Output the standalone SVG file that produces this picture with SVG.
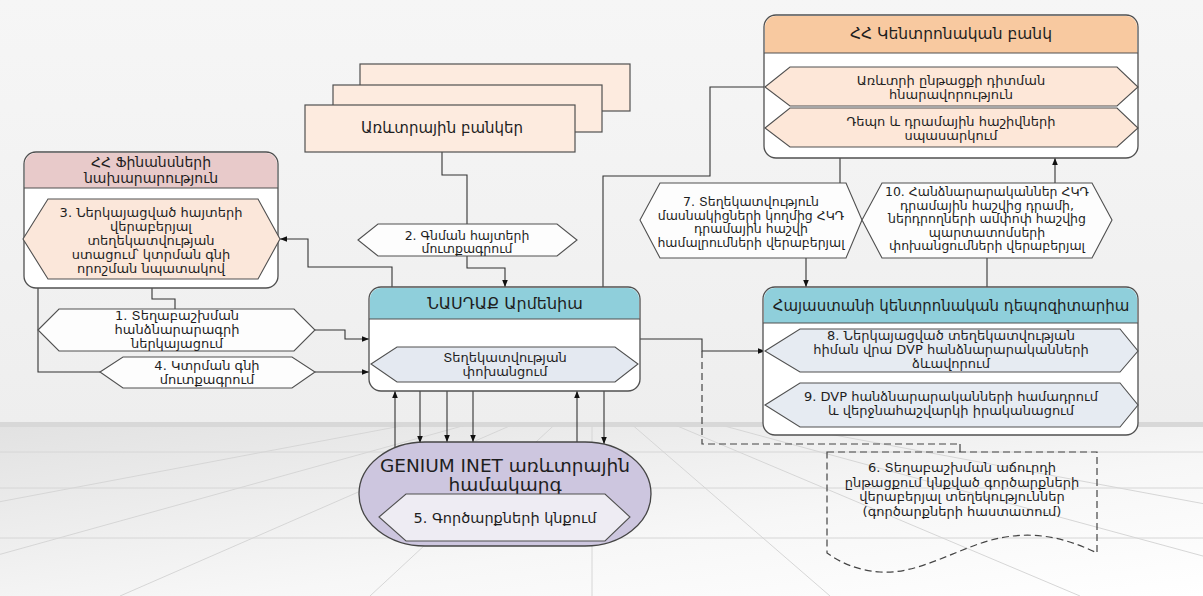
<svg xmlns="http://www.w3.org/2000/svg" width="1203" height="596" viewBox="0 0 1203 596">
<defs>
<linearGradient id="sky" x1="0" y1="0" x2="0" y2="1">
<stop offset="0" stop-color="#f6f6f6"/><stop offset="1" stop-color="#eeeeee"/>
</linearGradient>
<linearGradient id="floor" x1="0" y1="0" x2="1" y2="1">
<stop offset="0" stop-color="#e2e2e2"/><stop offset="0.6" stop-color="#f7f7f7"/><stop offset="1" stop-color="#ffffff"/>
</linearGradient>
<clipPath id="floorClip"><rect x="0" y="426" width="1203" height="170"/></clipPath>
<marker id="arr" viewBox="0 0 10 10" refX="10" refY="5" markerWidth="7" markerHeight="7" orient="auto" markerUnits="userSpaceOnUse">
<path d="M0,1 L10,5 L0,9 Z" fill="#111"/>
</marker>
<style>
.bg-line{stroke:#d6d6d6;stroke-width:1;fill:none}
.box{fill:#ffffff;stroke:#505050;stroke-width:1.3}
.hex{stroke:#505050;stroke-width:1.1}
.lbl{fill:#fdfdfd;stroke:#505050;stroke-width:1.1}
.con{fill:none;stroke:#333;stroke-width:1.1}
.dash{fill:none;stroke:#444;stroke-width:1.2;stroke-dasharray:7,4}
text{font-family:'DejaVu Sans','Noto Sans',sans-serif;fill:#1e1e1e;text-anchor:middle}
.t{font-size:13px}
.s{font-size:12.5px}
.h{font-size:14px}
</style>
</defs>

<!-- background -->
<g id="background">
<rect x="0" y="0" width="1203" height="426" fill="url(#sky)"/>
<rect x="0" y="426" width="1203" height="170" fill="url(#floor)"/>
<rect x="0" y="422" width="1203" height="5" fill="#d8d8d8"/>
<g clip-path="url(#floorClip)">
<line class="bg-line" x1="0" y1="452" x2="1203" y2="452"/>
<line class="bg-line" x1="0" y1="488" x2="1203" y2="488"/>
<line class="bg-line" x1="0" y1="538" x2="1203" y2="538"/>
<line class="bg-line" x1="592" y1="426" x2="592" y2="596"/>
<line class="bg-line" x1="592" y1="390" x2="-500" y2="596"/>
<line class="bg-line" x1="592" y1="390" x2="-150" y2="596"/>
<line class="bg-line" x1="592" y1="390" x2="120" y2="596"/>
<line class="bg-line" x1="592" y1="390" x2="370" y2="596"/>
<line class="bg-line" x1="592" y1="390" x2="830" y2="596"/>
<line class="bg-line" x1="592" y1="390" x2="1080" y2="596"/>
<line class="bg-line" x1="592" y1="390" x2="1350" y2="596"/>
<line class="bg-line" x1="592" y1="390" x2="1700" y2="596"/>
</g>
</g>

<!-- connectors -->
<g id="connectors">
<polyline class="con" points="442,152 442,175 467,175 467,224"/>
<polyline class="con" points="467,256 467,268 505,268 505,287" marker-end="url(#arr)"/>
<polyline class="con" points="392,287 392,267 308,267 308,239 280,239" marker-end="url(#arr)"/>
<polyline class="con" points="152,288 152,299 175,299 175,309"/>
<polyline class="con" points="315,330 345,330 345,339 369,339" marker-end="url(#arr)"/>
<polyline class="con" points="38,288 38,372 100,372"/>
<polyline class="con" points="315,372 369,372" marker-end="url(#arr)"/>
<line class="con" x1="395" y1="447" x2="395" y2="391" marker-end="url(#arr)"/>
<line class="con" x1="420" y1="391" x2="420" y2="443" marker-end="url(#arr)"/>
<line class="con" x1="447" y1="391" x2="447" y2="442" marker-end="url(#arr)"/>
<line class="con" x1="473" y1="391" x2="473" y2="442" marker-end="url(#arr)"/>
<line class="con" x1="577" y1="442" x2="577" y2="391" marker-end="url(#arr)"/>
<line class="con" x1="604" y1="391" x2="604" y2="444" marker-end="url(#arr)"/>
<polyline class="con" points="640,339 702,339 702,351 765,351" marker-end="url(#arr)"/>
<polyline class="dash" points="702,351 702,444 960,444"/>
<line class="con" x1="960" y1="444" x2="960" y2="452"/>
<polyline class="con" points="603,287 603,176 710,176 710,87 765,87"/>
<line class="con" x1="840" y1="158" x2="840" y2="183"/>
<line class="con" x1="806" y1="258" x2="806" y2="287" marker-end="url(#arr)"/>
<line class="con" x1="1055" y1="183" x2="1055" y2="158" marker-end="url(#arr)"/>
<line class="con" x1="987" y1="287" x2="987" y2="258"/>
</g>

<!-- Ministry of Finance -->
<g id="ministry">
<rect class="box" x="24" y="152" width="254" height="136" rx="12"/>
<path d="M25,188 V164 A11,11 0 0 1 36,153 H266 A11,11 0 0 1 277,164 V188 Z" fill="#e8caca"/>
<line x1="24" y1="188" x2="278" y2="188" stroke="#505050" stroke-width="1.2"/>
<text class="h" x="151" y="167">ՀՀ Ֆինանսների</text>
<text class="h" x="151" y="183">նախարարություն</text>
<polygon class="hex" fill="#fbe7da" points="23,239 48,199 258,199 280,239 258,279 48,279"/>
<text class="t" x="151" y="217">3. Ներկայացված հայտերի</text>
<text class="t" x="151" y="231">վերաբերյալ</text>
<text class="t" x="151" y="245">տեղեկատվության</text>
<text class="t" x="151" y="259">ստացում՝ կտրման գնի</text>
<text class="t" x="151" y="273">որոշման նպատակով</text>
</g>

<!-- Commercial banks -->
<g id="banks">
<rect x="360" y="64" width="270" height="47" fill="#fdebdf" stroke="#505050" stroke-width="1.2"/>
<rect x="333" y="85" width="269" height="47" fill="#fdebdf" stroke="#505050" stroke-width="1.2"/>
<rect x="305" y="105" width="270" height="47" fill="#fdebdf" stroke="#505050" stroke-width="1.2"/>
<text x="442" y="133" style="font-size:15px">Առևտրային բանկեր</text>
</g>

<!-- label 2 -->
<g id="label2">
<polygon class="lbl" points="358,240 378,224 557,224 577,240 557,256 378,256"/>
<text class="s" x="467" y="240">2. Գնման հայտերի</text>
<text class="s" x="467" y="253">մուտքագրում</text>
</g>

<!-- label 1 -->
<g id="label1">
<polygon class="lbl" points="38,330 59,309 294,309 315,330 294,351 59,351"/>
<text class="t" x="177" y="320">1. Տեղաբաշխման</text>
<text class="t" x="177" y="334">հանձնարարագրի</text>
<text class="t" x="177" y="348">ներկայացում</text>
</g>

<!-- label 4 -->
<g id="label4">
<polygon class="lbl" points="100,372 123,357 292,357 315,372 292,388 123,388"/>
<text class="t" x="207" y="370">4. Կտրման գնի</text>
<text class="t" x="207" y="384">մուտքագրում</text>
</g>

<!-- NASDAQ Armenia -->
<g id="nasdaq">
<rect class="box" x="369" y="287" width="271" height="104" rx="12"/>
<path d="M370,319 V299 A11,11 0 0 1 381,288 H628 A11,11 0 0 1 639,299 V319 Z" fill="#8fcfdb"/>
<line x1="369" y1="319" x2="640" y2="319" stroke="#505050" stroke-width="1.2"/>
<text x="505" y="309" style="font-size:16px">ՆԱՍԴԱՔ Արմենիա</text>
<polygon class="hex" fill="#e4e9f1" points="371,364 397,347 615,347 638,364 615,382 397,382"/>
<text class="t" x="505" y="362">Տեղեկատվության</text>
<text class="t" x="505" y="376">փոխանցում</text>
</g>

<!-- GENIUM INET -->
<g id="genium">
<rect x="359" y="442" width="292" height="104" rx="66" ry="52" fill="#cdc6df" stroke="#454545" stroke-width="1.3"/>
<text x="505" y="472" style="font-size:18.5px">GENIUM INET առևտրային</text>
<text x="505" y="491" style="font-size:18.5px">համակարգ</text>
<polygon class="hex" fill="#eeecf3" points="379,517 406,494 605,494 630,517 605,541 406,541"/>
<text x="505" y="523" style="font-size:14.5px">5. Գործարքների կնքում</text>
</g>

<!-- Central Bank -->
<g id="centralbank">
<rect class="box" x="764" y="15" width="374" height="143" rx="12"/>
<path d="M765,53 V27 A11,11 0 0 1 776,16 H1126 A11,11 0 0 1 1137,27 V53 Z" fill="#f8c9a0"/>
<line x1="764" y1="53" x2="1138" y2="53" stroke="#505050" stroke-width="1.2"/>
<text x="951" y="39" style="font-size:15.5px">ՀՀ Կենտրոնական բանկ</text>
<polygon class="hex" fill="#fde7d8" points="765,87 790,67 1117,67 1138,87 1117,106 790,106"/>
<text class="t" x="951" y="85">Առևտրի  ընթացքի դիտման</text>
<text class="t" x="951" y="99">հնարավորություն</text>
<polygon class="hex" fill="#fde7d8" points="765,128 790,108 1117,108 1138,128 1117,147 790,147"/>
<text class="t" x="951" y="126">Դեպո և դրամային հաշիվների</text>
<text class="t" x="951" y="140">սպասարկում</text>
</g>

<!-- label 7 -->
<g id="label7">
<polygon class="lbl" points="640,220 660,183 846,183 862,220 846,258 660,258"/>
<text class="s" x="751" y="206">7. Տեղեկատվություն</text>
<text class="s" x="751" y="219.5">մասնակիցների կողմից ՀԿԴ</text>
<text class="s" x="751" y="233">դրամային հաշվի</text>
<text class="s" x="751" y="246.5">համալրումների վերաբերյալ</text>
</g>

<!-- label 10 -->
<g id="label10">
<polygon class="lbl" points="862,220 882,183 1092,183 1112,220 1092,258 882,258"/>
<text class="s" x="987" y="196">10. Հանձնարարականներ ՀԿԴ</text>
<text class="s" x="987" y="209.5">դրամային հաշվից դրամի,</text>
<text class="s" x="987" y="223">ներդրողների ամփոփ հաշվից</text>
<text class="s" x="987" y="236.5">պարտատոմսերի</text>
<text class="s" x="987" y="250">փոխանցումների վերաբերյալ</text>
</g>

<!-- Central Depository -->
<g id="depository">
<rect class="box" x="763" y="287" width="375" height="148" rx="12"/>
<path d="M764,323 V299 A11,11 0 0 1 775,288 H1126 A11,11 0 0 1 1137,299 V323 Z" fill="#8fcfdb"/>
<line x1="763" y1="323" x2="1138" y2="323" stroke="#505050" stroke-width="1.2"/>
<text x="951" y="310.5" style="font-size:15px">Հայաստանի կենտրոնական դեպոզիտարիա</text>
<polygon class="hex" fill="#e6ebf2" points="765,351 800,329 1120,329 1138,351 1120,372 800,372"/>
<text class="t" x="951" y="340">8. Ներկայացված տեղեկատվության</text>
<text class="t" x="951" y="354">հիման վրա DVP հանձնարարականների</text>
<text class="t" x="951" y="368">ձևավորում</text>
<polygon class="hex" fill="#e6ebf2" points="765,405 800,383 1120,383 1138,405 1120,427 800,427"/>
<text class="t" x="951" y="401">9. DVP հանձնարարականների համադրում</text>
<text class="t" x="951" y="415">և վերջնահաշվարկի իրականացում</text>
</g>

<!-- Document 6 -->
<g id="doc6">
<path class="dash" d="M827,452 H1097 V553 C1060,535 1030,532 1000,538 C960,546 920,575 880,572 C855,570 840,562 827,553 Z" fill="#ffffff"/>
<text class="t" x="962" y="472">6. Տեղաբաշխման աճուրդի</text>
<text class="t" x="962" y="486.5">ընթացքում կնքված գործարքների</text>
<text class="t" x="962" y="501">վերաբերյալ տեղեկություններ</text>
<text class="t" x="962" y="515.5">(գործարքների հաստատում)</text>
</g>
</svg>
